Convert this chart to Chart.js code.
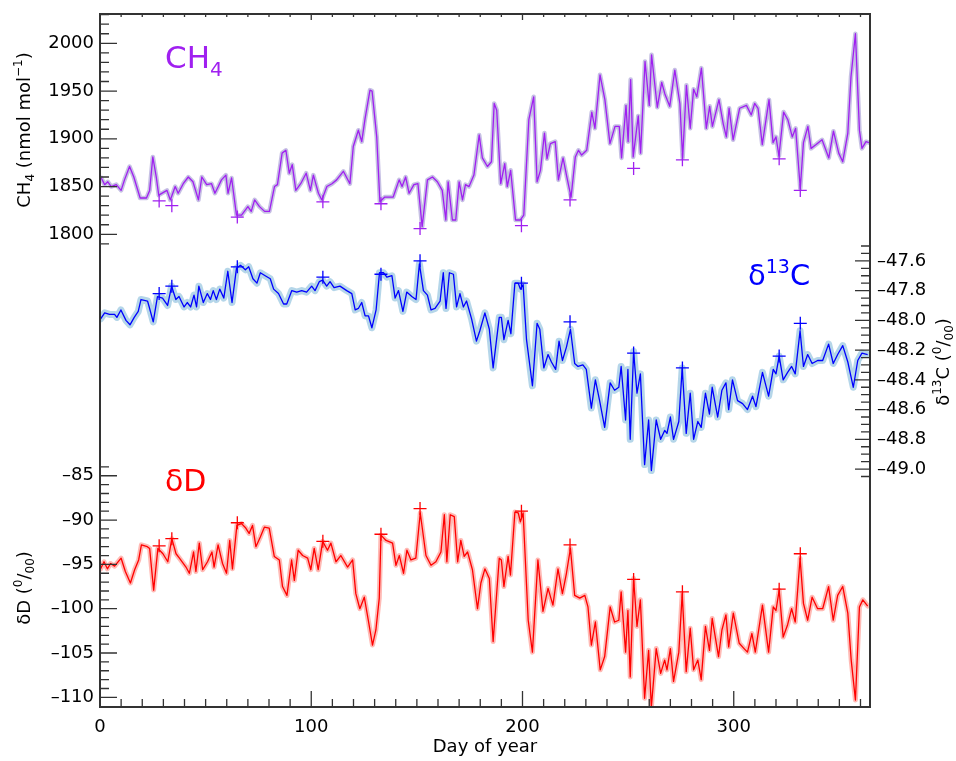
<!DOCTYPE html>
<html>
<head>
<meta charset="utf-8">
<script src="https://cdn.jsdelivr.net/npm/chart.js@4.4.1/dist/chart.umd.min.js"></script>
<style>
  body { margin: 0; background: #fff; }
  canvas { display: block; }
</style>
</head>
<body>
<canvas id="chart" width="956" height="761"></canvas>
<script>
// CH4 (nmol/mol)
const ch4Day = [0.6, 2.2, 3.7, 5.3, 7.7, 10, 11.6, 14, 16, 19, 22, 23.5, 25, 26.7, 27.8, 31.7, 33.3, 35.6, 37, 39.4,
  41.8, 44, 46.6, 48.2, 50.5, 52.8, 54.4, 56, 57.5, 59.6, 60.6, 62.3, 64.6, 67, 70, 71.6, 73.2, 75.5, 77.9, 80.2,
  82.6, 84, 86.2, 88, 89.6, 91, 92.7, 95, 97.6, 99.6, 101, 103.4, 105, 107.4, 109.8, 112, 115.2, 118.3, 119.9, 122.3,
  123.9, 125.4, 127.8, 128.8, 131, 132.5, 134.8, 138.8, 141.6, 143, 144.7, 146.3, 148.6, 150.5, 152.5, 155, 157.4, 159.7, 162, 163.7,
  164.8, 166.8, 168.4, 170, 171.6, 173, 174.7, 177, 179.5, 181, 183.4, 185.3, 186.6, 187.8, 189.7, 191.6, 192.8, 194.4, 196.7, 199,
  200.6, 203, 205.3, 206.9, 208.5, 210.4, 211.6, 213.2, 215.5, 217, 219.2, 221, 223, 225, 226.5, 228, 230.4, 232.8, 234.3, 236.7,
  239, 241.4, 243.8, 245.8, 246.9, 249, 250, 251.2, 252.4, 254.8, 255.9, 258, 260, 261.1, 263.8, 265.9, 267.4, 269.7, 272.1, 274.5,
  275.8, 277.6, 279.4, 281, 282.5, 284.7, 287, 288.6, 289.9, 293, 295, 296.5, 297.8, 299.7, 302.8, 306, 308.3, 309.9, 311.5, 313.5,
  316.7, 318.6, 320, 321.4, 323.6, 325.6, 327.7, 329.3, 331.5, 333, 335.1, 336.6, 339, 341.8, 345, 347.2, 349.7, 351.6, 354, 355.5,
  357.6, 359.5, 360.7, 362.6, 364];
const ch4Val = [1859, 1852, 1855, 1850, 1852, 1846, 1857, 1871, 1860, 1838, 1838, 1846, 1881, 1859, 1841, 1846, 1836, 1850, 1843, 1853,
  1860, 1855, 1836, 1860, 1852, 1853, 1843, 1850, 1857, 1862, 1843, 1859, 1820, 1820, 1829, 1824, 1836, 1829, 1824, 1824,
  1850, 1852, 1885, 1888, 1864, 1873, 1846, 1853, 1864, 1846, 1862, 1843, 1836, 1850, 1853, 1857, 1866, 1853, 1892, 1909,
  1897, 1920, 1951, 1950, 1902, 1834, 1839, 1839, 1857, 1850, 1860, 1843, 1852, 1853, 1808, 1857, 1860, 1855, 1846, 1815,
  1855, 1815, 1815, 1855, 1836, 1852, 1850, 1862, 1904, 1880, 1871, 1876, 1937, 1930, 1853, 1874, 1850, 1867, 1815, 1815,
  1820, 1920, 1944, 1855, 1867, 1906, 1879, 1895, 1897, 1857, 1880, 1860, 1839, 1881, 1888, 1883, 1888, 1928, 1911, 1967,
  1941, 1895, 1913, 1913, 1880, 1935, 1897, 1962, 1881, 1924, 1885, 1981, 1935, 1988, 1933, 1959, 1947, 1934, 1972, 1937,
  1880, 1956, 1911, 1952, 1944, 1974, 1911, 1934, 1913, 1941, 1916, 1902, 1932, 1899, 1932, 1935, 1925, 1937, 1932, 1894,
  1941, 1896, 1902, 1882, 1928, 1920, 1902, 1911, 1848, 1896, 1913, 1890, 1894, 1899, 1880, 1908, 1885, 1876, 1906, 1965,
  2010, 1909, 1890, 1897, 1896];

// delta13C (permil)
const c13Day = [0.3, 2.2, 4.5, 6.9, 8, 9.9, 12.3, 14.2, 16.2, 18.1, 19.4, 22.5, 23.3, 25.2, 27.2, 29.6, 32, 33.9, 35.9, 37.4,
  39.8, 41.3, 42.9, 44.5, 45.7, 46.8, 48.9, 50.8, 52.3, 53.6, 55.1, 56.7, 58.6, 60.5, 62.5, 64.6, 66.5, 68.8, 70.4, 72.4,
  74.3, 75.9, 78.2, 80.6, 82.2, 84.5, 86.9, 88.4, 90.8, 93.1, 95.5, 97.8, 100.2, 101.8, 103.8, 105.4, 107.3, 108.9, 110.8, 113.6,
  116.8, 119.2, 120.8, 122.3, 123.9, 125.5, 127.1, 128.7, 130.7, 132.3, 134.2, 135.8, 138.2, 139.7, 141.3, 143.4, 145.2, 147.6, 149.6, 151.2,
  153.1, 155, 156.7, 158.6, 161, 162.5, 163.8, 165.4, 167.3, 168.8, 170.4, 172, 173.5, 175.9, 178.2, 179.8, 182.2, 184.3, 186.1, 189,
  190, 191.2, 193.2, 194.5, 196.4, 198, 199, 200.3, 201.9, 204.7, 206.9, 208.2, 210.1, 212.1, 213.7, 215.7, 217.3, 218.9, 220.8, 222.7,
  224.7, 226.3, 228.6, 230.2, 232.6, 234.5, 236.5, 238.9, 241.5, 243.6, 245.6, 246.7, 248.8, 249.9, 251, 252.6, 254.2, 255.8, 257.8, 259.7,
  261, 263.3, 265.4, 267.3, 268.4, 270, 271.5, 274, 275.6, 277.5, 279.4, 281, 283, 284.6, 286.6, 288.5, 289.8, 292.4, 294.4, 296.3,
  297.6, 299.4, 301.8, 304.2, 306.5, 308.9, 310.5, 313.6, 316.5, 318.7, 320, 321.5, 323.4, 325.5, 327.4, 329.1, 331.4, 333, 335, 337.1,
  339.7, 342.1, 344.9, 347.1, 349.2, 351.6, 354, 356.6, 358.7, 360.7, 363.4];
const c13Val = [-47.99, -47.95, -47.96, -47.96, -47.98, -47.93, -48.0, -48.03, -47.98, -47.94, -47.86, -47.87, -47.91, -48.01, -47.84, -47.85, -47.90, -47.77, -47.86, -47.84,
  -47.91, -47.88, -47.91, -47.83, -47.91, -47.77, -47.88, -47.82, -47.86, -47.80, -47.86, -47.79, -47.85, -47.67, -47.88, -47.65, -47.63, -47.66, -47.64, -47.72,
  -47.75, -47.68, -47.70, -47.72, -47.79, -47.82, -47.89, -47.89, -47.80, -47.81, -47.80, -47.81, -47.77, -47.80, -47.74, -47.73, -47.77, -47.74, -47.78, -47.77,
  -47.80, -47.82, -47.93, -47.92, -47.88, -47.97, -47.97, -48.05, -47.93, -47.68, -47.68, -47.71, -47.70, -47.85, -47.80, -47.94, -47.81, -47.84, -47.86, -47.62,
  -47.80, -47.83, -47.93, -47.92, -47.87, -47.68, -47.92, -47.68, -47.69, -47.91, -47.82, -47.91, -47.87, -47.99, -48.14, -48.07, -47.95, -48.06, -48.32, -47.98,
  -47.98, -48.13, -48.0, -48.09, -47.75, -47.75, -47.79, -47.76, -48.13, -48.44, -48.02, -48.06, -48.32, -48.23, -48.28, -48.33, -48.14, -48.27, -48.18, -48.06,
  -48.29, -48.31, -48.30, -48.33, -48.59, -48.40, -48.54, -48.72, -48.42, -48.47, -48.45, -48.31, -48.67, -48.33, -48.80, -48.21, -48.49, -48.36, -48.97, -48.67,
  -49.01, -48.67, -48.80, -48.74, -48.76, -48.65, -48.80, -48.68, -48.32, -48.76, -48.49, -48.80, -48.68, -48.72, -48.49, -48.63, -48.45, -48.65, -48.47, -48.42,
  -48.60, -48.40, -48.54, -48.56, -48.60, -48.51, -48.58, -48.35, -48.51, -48.33, -48.36, -48.24, -48.40, -48.35, -48.31, -48.36, -48.07, -48.31, -48.23, -48.29,
  -48.27, -48.27, -48.16, -48.29, -48.23, -48.17, -48.28, -48.45, -48.27, -48.22, -48.23];

// deltaD (permil)
const dDDay = [0.3, 1.9, 3.5, 5, 6.9, 10, 12, 14.4, 16.4, 18.3, 19.6, 22.4, 23.5, 25.4, 27.4, 29.8, 32.1, 34, 36, 37.6,
  40.7, 42.3, 44.3, 45.4, 47, 48.6, 50.9, 53, 54, 55.9, 58, 59.9, 61.4, 62.7, 64.8, 67, 69, 70.6, 72.2, 73.8,
  75.9, 77.8, 80.1, 82.5, 84.9, 86.4, 88.5, 90.7, 92, 93.8, 95.9, 98.3, 99.8, 101.4, 103.3, 105.4, 107.7, 109.3, 111.7, 114,
  117.2, 119.6, 121.1, 123, 125.1, 127, 129, 130.6, 132.2, 133, 135.4, 138.5, 140.1, 141.7, 143.7, 145.3, 147.2, 149.5, 151.6, 154.3,
  156.7, 159, 161.4, 163, 164.2, 165.8, 167.7, 169.3, 170.8, 172.4, 174, 176.3, 178.7, 180.3, 182.2, 184.3, 186.1, 189, 190, 191.2,
  193.2, 194.3, 196.4, 198, 199, 200.3, 202.7, 204.7, 207.3, 209.7, 212.1, 214.4, 216.8, 218.9, 220.8, 222.7, 224.7, 227.1, 229.5, 231,
  232.6, 234.5, 236.8, 238.9, 241.5, 243.6, 245.6, 246.7, 248.8, 249.9, 251, 252.6, 254.2, 255.8, 257.8, 259.7, 261, 263.3, 265.4, 267.3,
  268.4, 270, 271.5, 274, 275.6, 277.5, 279.4, 281, 283, 284.6, 286.6, 288.5, 289.8, 292.8, 294.4, 296.3, 297.6, 299.8, 302.6, 304.9,
  306.5, 308.6, 310.2, 313.6, 316.5, 318.7, 320, 321.5, 323.4, 325.5, 327.4, 329.1, 331.4, 333, 335, 337.1, 339.7, 342.1, 344.9, 347.1,
  349.2, 351.6, 354, 355.6, 357.6, 359.5, 361.1, 363.4];
const dDVal = [-95.5, -94.7, -95.5, -94.9, -95.2, -94.3, -95.8, -97.1, -95.6, -94.5, -92.8, -93.0, -93.2, -97.9, -93.2, -93.8, -94.7, -92.1, -93.8, -94.3,
  -95.3, -96.0, -93.6, -95.8, -92.6, -95.6, -94.7, -93.6, -95.3, -92.8, -94.9, -96.0, -92.3, -95.5, -90.6, -90.4, -90.9, -91.5, -90.6, -93.0,
  -91.9, -90.8, -90.9, -94.1, -94.5, -97.5, -98.5, -94.5, -96.8, -93.4, -94.0, -94.3, -95.6, -93.2, -95.6, -92.4, -93.4, -92.6, -94.7, -94.0,
  -95.3, -94.5, -98.3, -100.0, -98.7, -101.3, -104.1, -102.4, -98.8, -91.7, -92.3, -92.6, -95.1, -94.0, -96.0, -93.4, -94.5, -94.3, -89.2, -94.0,
  -95.1, -94.7, -93.6, -89.4, -94.7, -89.4, -89.6, -94.7, -92.3, -94.1, -93.6, -95.6, -100.0, -97.1, -95.5, -96.6, -103.7, -94.3, -94.5, -97.5,
  -94.1, -96.2, -89.1, -89.2, -90.2, -89.2, -101.3, -104.9, -94.5, -100.3, -97.7, -99.6, -95.5, -98.3, -96.0, -93.2, -98.5, -98.8, -98.5, -99.8,
  -104.1, -101.5, -106.9, -105.4, -99.8, -101.5, -101.3, -98.1, -104.9, -100.2, -107.7, -96.6, -102.0, -99.0, -110.1, -104.7, -111.1, -104.5, -107.3, -105.8,
  -106.9, -104.5, -108.2, -104.9, -98.3, -107.1, -102.2, -106.9, -105.8, -108.0, -102.0, -104.7, -101.1, -105.4, -102.4, -100.7, -104.3, -100.5, -103.9, -104.5,
  -104.9, -102.8, -104.9, -99.6, -104.9, -99.8, -100.2, -97.9, -103.2, -101.8, -100.0, -101.5, -94.3, -99.4, -101.3, -98.7, -100.0, -100.0, -97.5, -101.3,
  -98.5, -97.5, -100.5, -105.8, -110.3, -99.8, -99.0, -99.7];

// marked events (+)
const eventDay = [28, 34, 65, 105.5, 133, 151.5, 199.5, 222.5, 252.6, 275.7, 321.5, 331.5];
const ch4Event = [1835, 1830, 1818, 1834, 1832, 1806, 1809, 1836, 1869, 1878, 1879, 1846];
const c13Event = [-47.82, -47.77, -47.64, -47.71, -47.69, -47.60, -47.75, -48.01, -48.22, -48.32, -48.24, -48.02];
const dDEvent = [-92.9, -92.1, -90.3, -92.4, -91.6, -88.7, -89.0, -92.8, -96.7, -98.1, -97.8, -93.8];

const xTicks = [0, 100, 200, 300];

const PURPLE = '#a020f0';
const BLUE = '#0000ff';
const RED = '#ff0000';
const FONT = 'DejaVu Sans';

function pts(xs, ys) {
  return xs.map((x, i) => ({x: x, y: ys[i]}));
}

// wide pale line under the series = uncertainty band
function band(label, xs, ys, axis, color, width) {
  return {label, data: pts(xs, ys), yAxisID: axis, borderColor: color, borderWidth: width,
    pointRadius: 0, tension: 0, borderJoinStyle: 'round', borderCapStyle: 'round', order: 3};
}
function line(label, xs, ys, axis, color) {
  return {label, data: pts(xs, ys), yAxisID: axis, borderColor: color, borderWidth: 1.3,
    pointRadius: 0, tension: 0, borderJoinStyle: 'round', order: 2};
}
function marks(label, xs, ys, axis, color) {
  return {label, data: pts(xs, ys), yAxisID: axis, showLine: false, pointStyle: 'cross',
    pointRadius: 6.5, pointBorderWidth: 1.3, borderColor: color, backgroundColor: color, order: 1};
}

// text with sub/superscripts
function rich(ctx, parts, x, y, align, color) {
  let w = 0;
  parts.forEach(p => { ctx.font = p.s + 'px "' + FONT + '"'; w += ctx.measureText(p.t).width; });
  let cx = align === 'center' ? x - w / 2 : x;
  ctx.fillStyle = color || '#000';
  ctx.textAlign = 'left';
  ctx.textBaseline = 'alphabetic';
  parts.forEach(p => {
    ctx.font = p.s + 'px "' + FONT + '"';
    ctx.fillText(p.t, cx, y + (p.dy || 0));
    cx += ctx.measureText(p.t).width;
  });
}

const frame = {
  id: 'frame',
  afterDraw(chart) {
    const ctx = chart.ctx;
    const a = chart.chartArea;
    const sx = chart.scales.x, s1 = chart.scales.yCH4, s2 = chart.scales.yC13, s3 = chart.scales.yD;
    ctx.save();
    ctx.strokeStyle = '#333';
    ctx.lineWidth = 1.3;
    ctx.beginPath();
    // x ticks top and bottom
    for (let d = 0; d <= 360; d += 10) {
      const px = sx.getPixelForValue(d);
      const major = d % 100 === 0;
      ctx.moveTo(px, a.bottom); ctx.lineTo(px, a.bottom - (major ? 16 : 8));
      ctx.moveTo(px, a.top); ctx.lineTo(px, a.top + (major ? 6 : 3));
    }
    // CH4 ticks (left)
    for (let v = 1790; v <= 2030; v += 10) {
      const py = s1.getPixelForValue(v);
      ctx.moveTo(a.left, py); ctx.lineTo(a.left + (v % 50 === 0 ? 17 : 9), py);
    }
    // dD ticks (left)
    for (let v = -110; v <= -84; v++) {
      const py = s3.getPixelForValue(v);
      ctx.moveTo(a.left, py); ctx.lineTo(a.left + (v % 5 === 0 ? 17 : 9), py);
    }
    // d13C ticks (right)
    for (let i = -981; i <= -950; i++) {
      const py = s2.getPixelForValue(i / 20);
      ctx.moveTo(a.right, py); ctx.lineTo(a.right - (i % 4 === 0 ? 15 : 9), py);
    }
    ctx.stroke();

    ctx.lineWidth = 2;
    ctx.strokeRect(a.left, a.top, a.right - a.left, a.bottom - a.top);

    // tick labels
    ctx.fillStyle = '#000';
    ctx.font = '18px "' + FONT + '"';
    ctx.textBaseline = 'middle';
    ctx.textAlign = 'right';
    for (let v = 1800; v <= 2000; v += 50) ctx.fillText(String(v), a.left - 6, s1.getPixelForValue(v));
    for (let v = -110; v <= -85; v += 5) ctx.fillText('\u2013' + (-v), a.left - 6, s3.getPixelForValue(v));
    ctx.textAlign = 'left';
    for (let i = -980; i <= -952; i += 4) {
      ctx.fillText('\u2013' + (-i / 20).toFixed(1), a.right + 7, s2.getPixelForValue(i / 20));
    }

    // axis titles (rotated)
    const vtitle = (parts, cx, cy) => {
      ctx.save();
      ctx.translate(cx, cy);
      ctx.rotate(-Math.PI / 2);
      rich(ctx, parts, 0, 6.5, 'center');
      ctx.restore();
    };
    vtitle([{t: 'CH', s: 18}, {t: '4', s: 12, dy: 4}, {t: ' (nmol mol', s: 18}, {t: '\u22121', s: 12, dy: -8}, {t: ')', s: 18}], 23, 130);
    vtitle([{t: '\u03b4D (', s: 18}, {t: '0', s: 12, dy: -8}, {t: '/', s: 18}, {t: '00', s: 12, dy: 4}, {t: ')', s: 18}], 23, 588);
    vtitle([{t: '\u03b4', s: 18}, {t: '13', s: 12, dy: -8}, {t: 'C (', s: 18}, {t: '0', s: 12, dy: -8}, {t: '/', s: 18}, {t: '00', s: 12, dy: 4}, {t: ')', s: 18}], 942, 362);

    // series names
    rich(ctx, [{t: 'CH', s: 31}, {t: '4', s: 20, dy: 8}], 165, 68, 'left', PURPLE);
    rich(ctx, [{t: '\u03b4', s: 29}, {t: '13', s: 19, dy: -12}, {t: 'C', s: 29}], 748, 285, 'left', BLUE);
    rich(ctx, [{t: '\u03b4D', s: 30}], 165, 491, 'left', RED);
    ctx.restore();
  }
};

const ctx = document.getElementById('chart').getContext('2d');
const chart = new Chart(ctx, {
  type: 'line',
  data: {
    datasets: [
      band('CH4 band', ch4Day, ch4Val, 'yCH4', 'rgba(160,150,210,0.6)', 4.5),
      band('d13C band', c13Day, c13Val, 'yC13', 'rgba(120,180,215,0.55)', 7),
      band('dD band', dDDay, dDVal, 'yD', 'rgba(255,130,120,0.55)', 5),
      line('CH4', ch4Day, ch4Val, 'yCH4', PURPLE),
      line('d13C', c13Day, c13Val, 'yC13', BLUE),
      line('dD', dDDay, dDVal, 'yD', RED),
      marks('CH4 events', eventDay, ch4Event, 'yCH4', PURPLE),
      marks('d13C events', eventDay, c13Event, 'yC13', BLUE),
      marks('dD events', eventDay, dDEvent, 'yD', RED),
    ],
  },
  options: {
    responsive: false,
    animation: false,
    layout: {padding: {left: 100, right: 86, top: 14, bottom: 0}},
    plugins: {legend: {display: false}, tooltip: {enabled: false}},
    scales: {
      x: {
        type: 'linear', position: 'bottom', min: 0, max: 364.5,
        afterFit: (scale) => { scale.height = 54; },
        afterBuildTicks: (scale) => { scale.ticks = xTicks.map(v => ({value: v})); },
        grid: {display: false, drawTicks: false},
        border: {display: false},
        ticks: {font: {family: FONT, size: 18}, color: '#000', padding: 10, includeBounds: false},
        title: {display: true, text: 'Day of year', font: {family: FONT, size: 18}, color: '#000', padding: {top: 0, bottom: 3}},
      },
      // the three y scales span the whole plot height; only the part in use gets ticks
      yCH4: {type: 'linear', display: false, min: 1305, max: 2030.7},
      yC13: {type: 'linear', display: false, min: -50.6, max: -45.94},
      yD: {type: 'linear', display: false, min: -111.09, max: -32.9},
    },
  },
  plugins: [frame],
});
</script>
</body>
</html>
